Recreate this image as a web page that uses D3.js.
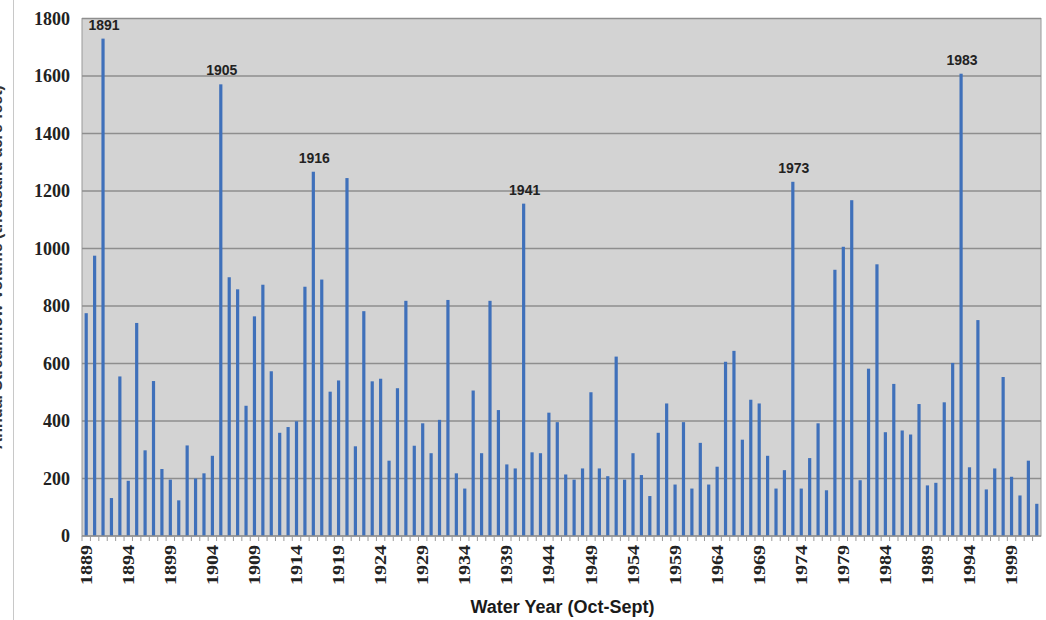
<!DOCTYPE html>
<html>
<head>
<meta charset="utf-8">
<script src="https://cdn.jsdelivr.net/npm/d3@7"></script>
<style>
  html, body { margin: 0; padding: 0; background: #ffffff; }
  svg { display: block; }
</style>
</head>
<body>
<svg id="chart" width="1046" height="620"></svg>
<script>
// ---- data ----
const years = d3.range(1889, 2003);
const values = [
  775, 975, 1730, 132, 555, 192, 741, 298, 539, 233,   // 1889-1898
  196, 124, 315, 200, 218, 279, 1571, 900, 858, 453,   // 1899-1908
  764, 874, 573, 359, 379, 399, 867, 1267, 892, 502,   // 1909-1918
  541, 1245, 312, 782, 538, 547, 262, 514, 818, 314,   // 1919-1928
  392, 288, 404, 821, 218, 165, 506, 288, 818, 438,    // 1929-1938
  249, 235, 1156, 291, 288, 429, 396, 214, 196, 235,   // 1939-1948
  500, 235, 208, 624, 196, 288, 212, 139, 359, 461,    // 1949-1958
  179, 396, 165, 324, 179, 241, 606, 644, 335, 474,    // 1959-1968
  461, 279, 165, 229, 1232, 165, 271, 392, 159, 926,   // 1969-1978
  1006, 1168, 194, 582, 945, 361, 529, 367, 353, 459,  // 1979-1988
  176, 185, 465, 602, 1608, 239, 751, 162, 235, 553,   // 1989-1998
  206, 141, 262, 112                                   // 1999-2002
];
const yTicks = [0, 200, 400, 600, 800, 1000, 1200, 1400, 1600, 1800];
const xTickYears = d3.range(1889, 2003, 5);
const annotYears = [1891, 1905, 1916, 1941, 1973, 1993];
const annotTexts = ["1891", "1905", "1916", "1941", "1973", "1983"];
const xTitle = "Water Year (Oct-Sept)";
const yTitle = "Annual Streamflow Volume (thousand acre-feet)";

// ---- layout ----
const svg = d3.select("#chart");
const plot = { left: 82, right: 1041, top: 18.5, bottom: 536 };

const x = d3.scaleBand()
  .domain(years)
  .range([plot.left, plot.right])
  .paddingInner(0.62)
  .paddingOuter(0.31);

const y = d3.scaleLinear()
  .domain([0, 1800])
  .range([plot.bottom, plot.top]);

// outer left frame line
svg.append("line")
  .attr("x1", 13.5).attr("x2", 13.5)
  .attr("y1", 0).attr("y2", 620)
  .attr("stroke", "#c8c8c8").attr("stroke-width", 1);

// y title (mostly cut off at the left edge, as in the reference)
svg.append("text")
  .attr("transform", `translate(2, ${(plot.top + plot.bottom) / 2 - 10}) rotate(-90)`)
  .attr("text-anchor", "middle")
  .attr("font-family", "Liberation Sans, Arial, sans-serif")
  .attr("font-weight", "bold")
  .attr("font-size", 16)
  .attr("fill", "#333")
  .text(yTitle);

// plot background
svg.append("rect")
  .attr("x", plot.left).attr("y", plot.top)
  .attr("width", plot.right - plot.left)
  .attr("height", plot.bottom - plot.top)
  .attr("fill", "#d3d3d3")
  .attr("stroke", "#9a9a9a")
  .attr("stroke-width", 1);

// gridlines
svg.append("g")
  .selectAll("line")
  .data(yTicks.filter(d => d > 0))
  .join("line")
  .attr("x1", plot.left).attr("x2", plot.right)
  .attr("y1", d => y(d)).attr("y2", d => y(d))
  .attr("stroke", "#8e8e8e")
  .attr("stroke-width", 1.6);

// bars
svg.append("g")
  .selectAll("rect")
  .data(years.map((yr, i) => ({ yr, v: values[i] })))
  .join("rect")
  .attr("x", d => x(d.yr))
  .attr("width", x.bandwidth())
  .attr("y", d => y(d.v))
  .attr("height", d => y(0) - y(d.v))
  .attr("fill", "#3f70ba");

// y axis
const yAxis = d3.axisLeft(y)
  .tickValues(yTicks)
  .tickSize(0)
  .tickPadding(12)
  .tickFormat(d3.format("d"));
const gy = svg.append("g")
  .attr("transform", `translate(${plot.left},0)`)
  .call(yAxis);
gy.select(".domain").remove();
gy.selectAll("text")
  .attr("font-family", "Liberation Serif, Times New Roman, serif")
  .attr("font-weight", "bold")
  .attr("font-size", 18)
  .attr("fill", "#222");

// x axis baseline + small ticks at category boundaries
svg.append("line")
  .attr("x1", plot.left).attr("x2", plot.right)
  .attr("y1", y(0)).attr("y2", y(0))
  .attr("stroke", "#8e8e8e").attr("stroke-width", 1.5);

const step = x.step();
svg.append("g")
  .selectAll("line")
  .data(years)
  .join("line")
  .attr("x1", d => x(d) + x.bandwidth() / 2 - step / 2)
  .attr("x2", d => x(d) + x.bandwidth() / 2 - step / 2)
  .attr("y1", y(0)).attr("y2", y(0) + 5)
  .attr("stroke", "#9a9a9a").attr("stroke-width", 1);

// x tick labels (rotated)
const xAxis = d3.axisBottom(x)
  .tickValues(xTickYears)
  .tickSize(0)
  .tickFormat(d3.format("d"));
const gx = svg.append("g")
  .attr("transform", `translate(0,${plot.bottom})`)
  .call(xAxis);
gx.select(".domain").remove();
gx.selectAll("text")
  .attr("font-family", "Liberation Serif, Times New Roman, serif")
  .attr("font-weight", "bold")
  .attr("font-size", 16)
  .attr("fill", "#222")
  .attr("text-anchor", "end")
  .attr("dy", "0.35em")
  .attr("transform", "translate(0,9) rotate(-90)")
  .attr("x", 0).attr("y", 0)
  .attr("textLength", 40)
  .attr("lengthAdjust", "spacingAndGlyphs");

// x title
svg.append("text")
  .attr("x", (plot.left + plot.right) / 2 + 1)
  .attr("y", 613)
  .attr("text-anchor", "middle")
  .attr("font-family", "Liberation Sans, Arial, sans-serif")
  .attr("font-weight", "bold")
  .attr("font-size", 18)
  .attr("fill", "#1a1a1a")
  .text(xTitle);

// peak annotations
svg.append("g")
  .selectAll("text")
  .data(annotYears.map((yr, i) => ({ yr, t: annotTexts[i], v: values[years.indexOf(yr)] })))
  .join("text")
  .attr("x", d => x(d.yr) + x.bandwidth() / 2 + 1)
  .attr("y", d => y(d.v) - 9)
  .attr("text-anchor", "middle")
  .attr("font-family", "Liberation Sans, Arial, sans-serif")
  .attr("font-weight", "bold")
  .attr("font-size", 14)
  .attr("fill", "#222")
  .text(d => d.t);
</script>
</body>
</html>
